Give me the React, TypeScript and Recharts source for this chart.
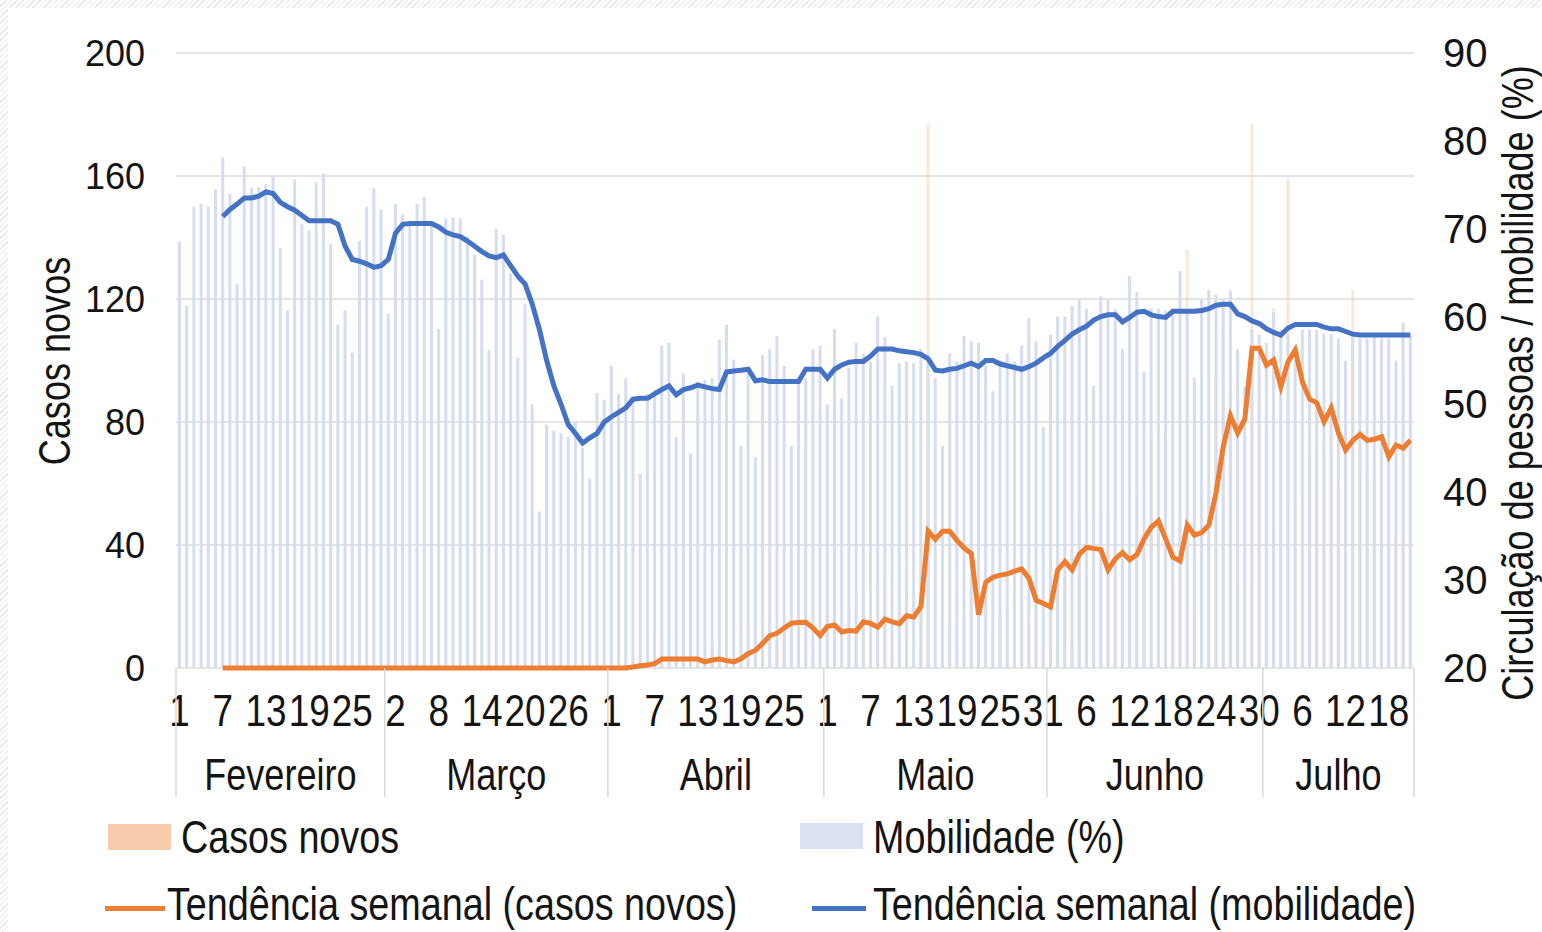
import React from "react";
import { ComposedChart, Bar, Line, XAxis, YAxis, CartesianGrid } from "recharts";

// categorias: meses e número de dias exibidos em cada um
const meses = ["Fevereiro", "Março", "Abril", "Maio", "Junho", "Julho"];
const diasPorMes = [29, 31, 30, 31, 30, 21];

// mobilidade diária (%), eixo direito
const mobilidade = [
  68.5, 61.2, 72.5, 72.8, 72.5, 74.5, 78.1, 74.0, 63.7, 77.1,
  74.7, 74.7, 75.1, 76.0, 67.8, 60.7, 75.6, 70.5, 69.8, 75.3,
  76.3, 68.3, 59.1, 60.7, 55.9, 68.6, 72.5, 74.6, 72.2, 60.3,
  72.8, 71.6, 70.5, 72.8, 73.6, 70.5, 58.6, 71.2, 71.3, 71.2,
  69.1, 67.0, 64.2, 56.2, 70.0, 69.3, 64.9, 55.3, 61.4, 50.0,
  37.8, 47.7, 47.0, 46.7, 46.3, 48.1, 45.1, 41.6, 51.3, 50.5,
  54.4, 51.2, 53.0, 50.5, 42.1, 51.2, 51.6, 56.7, 57.0, 46.3,
  53.5, 44.4, 52.6, 52.8, 53.0, 57.4, 59.1, 55.1, 45.3, 54.0,
  44.0, 55.6, 56.3, 57.8, 54.4, 45.3, 52.6, 53.0, 56.3, 56.7,
  50.0, 58.6, 50.7, 54.2, 57.0, 55.8, 54.9, 60.0, 57.7, 52.1,
  54.7, 54.9, 54.7, 56.3, 55.8, 53.0, 45.3, 55.8, 54.9, 57.8,
  57.2, 57.0, 54.4, 51.5, 55.0, 55.8, 54.9, 56.7, 59.8, 57.2,
  47.4, 57.9, 60.0, 60.0, 61.2, 61.9, 60.9, 52.1, 62.3, 61.9,
  60.9, 56.3, 64.6, 62.8, 53.7, 60.9, 60.9, 60.7, 60.7, 65.2,
  60.5, 53.0, 61.9, 63.0, 62.5, 61.9, 63.0, 56.3, 52.0, 58.5,
  58.0, 57.0, 60.5, 58.5, 58.0, 55.0, 58.5, 58.5, 58.5, 58.0,
  58.0, 57.5, 55.0, 58.0, 57.5, 57.5, 58.0, 57.5, 57.5, 55.0,
  59.3, 57.8,
];

// casos novos diários, eixo esquerdo
const casosNovos = [
  0, 0, 0, 0, 0, 0, 0, 0, 0, 0,
  0, 0, 0, 0, 0, 0, 0, 0, 0, 0,
  0, 0, 0, 0, 0, 0, 0, 0, 0, 0,
  0, 0, 0, 0, 0, 0, 0, 0, 0, 0,
  0, 0, 0, 0, 0, 0, 0, 0, 0, 0,
  0, 0, 0, 0, 0, 0, 0, 0, 0, 0,
  0, 0, 0, 2, 3, 2, 3, 10, 0, 0,
  3, 2, 0, 4, 7, 1, 3, 0, 0, 14,
  8, 16, 18, 8, 13, 11, 15, 9, 5, 2,
  22, 11, 0, 19, 11, 25, 14, 13, 30, 4,
  9, 27, 8, 34, 177, 0, 18, 13, 7, 17,
  21, 38, 73, 11, 17, 20, 23, 22, 15, 27,
  6, 4, 95, 30, 8, 50, 30, 4, 50, 49,
  30, 18, 35, 57, 40, 75, 43, 10, 28, 50,
  136, 18, 60, 56, 93, 110, 90, 66, 28, 177,
  96, 78, 117, 45, 159, 55, 20, 68, 87, 73,
  90, 60, 16, 123, 73, 64, 61, 97, 42, 43,
  95, 78,
];

// tendência semanal (mobilidade)
const tendMobilidade = [
  null, null, null, null, null, null, 71.4, 72.2, 72.8, 73.5,
  73.5, 73.7, 74.2, 74.0, 73.0, 72.5, 72.1, 71.5, 70.9, 70.9,
  70.9, 70.9, 70.5, 68.0, 66.5, 66.3, 66.0, 65.6, 65.8, 66.5,
  69.5, 70.5, 70.6, 70.6, 70.6, 70.6, 70.2, 69.6, 69.3, 69.1,
  68.6, 68.0, 67.4, 66.9, 66.7, 67.0, 65.8, 64.6, 63.7, 61.4,
  58.5, 55.0, 52.1, 50.0, 47.7, 46.7, 45.6, 46.2, 46.7, 48.0,
  48.6, 49.1, 49.6, 50.6, 50.7, 50.7, 51.2, 51.7, 52.1, 51.1,
  51.7, 51.9, 52.2, 52.0, 51.8, 51.7, 53.7, 53.8, 53.9, 54.0,
  52.7, 52.8, 52.6, 52.6, 52.6, 52.6, 52.6, 54.0, 54.0, 54.0,
  53.0, 54.0, 54.5, 54.8, 54.9, 54.9, 55.5, 56.3, 56.3, 56.3,
  56.1, 56.0, 55.9, 55.7, 55.2, 53.9, 53.8, 54.0, 54.1, 54.4,
  54.7, 54.3, 55.0, 55.0, 54.6, 54.4, 54.2, 54.0, 54.3, 54.7,
  55.3, 55.8, 56.6, 57.3, 58.0, 58.5, 58.9, 59.6, 60.0, 60.2,
  60.2, 59.4, 59.9, 60.5, 60.6, 60.2, 60.0, 59.9, 60.6, 60.6,
  60.6, 60.6, 60.7, 60.9, 61.3, 61.4, 61.4, 60.3, 60.0, 59.5,
  59.2, 58.6, 58.2, 57.9, 58.7, 59.1, 59.1, 59.1, 59.1, 58.8,
  58.6, 58.6, 58.3, 58.0, 57.9, 57.9, 57.9, 57.9, 57.9, 57.9,
  57.9, 57.9,
];

// tendência semanal (casos novos)
const tendCasos = [
  null, null, null, null, null, null, 0, 0, 0, 0,
  0, 0, 0, 0, 0, 0, 0, 0, 0, 0,
  0, 0, 0, 0, 0, 0, 0, 0, 0, 0,
  0, 0, 0, 0, 0, 0, 0, 0, 0, 0,
  0, 0, 0, 0, 0, 0, 0, 0, 0, 0,
  0, 0, 0, 0, 0, 0, 0, 0, 0, 0,
  0, 0, 0, 0.3, 0.7, 1.0, 1.4, 2.9, 2.9, 2.9,
  2.9, 2.9, 2.9, 2.0, 2.6, 2.9, 2.4, 2.0, 3.0, 4.7,
  5.7, 8.0, 10.5, 11.3, 13.0, 14.6, 14.8, 14.9, 13.0, 10.6,
  13.5, 14.0, 11.7, 12.2, 12.0, 15.0, 14.5, 13.3, 15.9, 15.0,
  14.4, 17.0, 16.6, 20.0, 44.5, 41.9, 44.5, 44.5, 41.5, 39.0,
  37.2, 17.3, 27.9, 29.5, 30.2, 30.6, 31.5, 32.2, 29.2, 22.0,
  21.0, 19.9, 31.9, 34.6, 31.9, 37.0, 39.2, 38.9, 38.5, 31.9,
  35.5, 37.5, 35.2, 36.9, 42.0, 45.8, 47.8, 41.9, 36.0, 34.8,
  46.5, 43.2, 44.0, 46.5, 57.0, 72.0, 82.0, 76.4, 81.0, 104.0,
  104.0, 98.5, 100.2, 91.5, 99.6, 103.4, 93.0, 87.5, 86.2, 80.1,
  84.6, 76.4, 70.9, 74.0, 76.0, 74.0, 74.4, 75.2, 68.7, 72.5,
  71.5, 74.1,
];

const ticksCasos = [0, 40, 80, 120, 160, 200];
const ticksMobilidade = [20, 30, 40, 50, 60, 70, 80, 90];

const W = 1542;
const H = 932;
const PLOT_L = 176;
const PLOT_R = 1414;
const PLOT_B = 668;
const FONT = "'Liberation Sans', Arial, sans-serif";
const SQUEEZE = 0.82; // texto estreito, como Arial Narrow
const TXT = "#141414";

const diaDoMes: number[] = [];
const inicioMes: number[] = [];
diasPorMes.forEach((len) => {
  inicioMes.push(diaDoMes.length);
  for (let d = 1; d <= len; d++) diaDoMes.push(d);
});
const N = diaDoMes.length;
const BAND = (PLOT_R - PLOT_L) / N;

const data = diaDoMes.map((dia, i) => ({
  i,
  dia,
  mob: mobilidade[i],
  casos: casosNovos[i],
  tMob: tendMobilidade[i],
  tCasos: tendCasos[i],
}));

const Narrow = ({ x, y, size, anchor = "middle", rotate = 0, children }: any) => (
  <text
    transform={`translate(${x},${y}) rotate(${rotate}) scale(${SQUEEZE},1)`}
    textAnchor={anchor}
    fontFamily={FONT}
    fontSize={size}
    fill={TXT}
  >
    {children}
  </text>
);

function XTick({ x, payload }: any) {
  const i = payload.value as number;
  const out: React.ReactNode[] = [];
  if (i % 6 === 0) {
    out.push(
      <Narrow key="d" x={x} y={726} size={45}>
        {diaDoMes[i]}
      </Narrow>
    );
  }
  if (inicioMes.includes(i)) {
    out.push(<line key="s" x1={x - BAND / 2} x2={x - BAND / 2} y1={PLOT_B} y2={797} stroke="#d9d9d9" strokeWidth={1.5} />);
  }
  if (i === N - 1) {
    out.push(<line key="e" x1={x + BAND / 2} x2={x + BAND / 2} y1={PLOT_B} y2={797} stroke="#d9d9d9" strokeWidth={1.5} />);
  }
  meses.forEach((nome, k) => {
    const c = inicioMes[k] + (diasPorMes[k] - 1) / 2;
    if (Math.floor(c) === i) {
      out.push(
        <Narrow key={"m" + k} x={x + (c - i) * BAND} y={790} size={44}>
          {nome}
        </Narrow>
      );
    }
  });
  return <g>{out}</g>;
}

const LeftTick = ({ x, y, payload }: any) => (
  <text x={x - 23} y={y} dy={13} textAnchor="end" fontFamily={FONT} fontSize={36} fill={TXT}>
    {payload.value}
  </text>
);

const RightTick = ({ x, y, payload }: any) => (
  <text x={x + 21} y={y} dy={14} textAnchor="start" fontFamily={FONT} fontSize={40} fill={TXT}>
    {payload.value}
  </text>
);

const AxisTitle = ({ cx, cy, text }: any) => (
  <g transform={`translate(${cx},${cy}) rotate(-90)`}>
    <Narrow x={0} y={15} size={44}>
      {text}
    </Narrow>
  </g>
);

const legendText = (left: number, top: number, label: string) => (
  <div
    style={{
      position: "absolute",
      left,
      top,
      fontFamily: FONT,
      fontSize: 46,
      lineHeight: "46px",
      color: TXT,
      whiteSpace: "nowrap",
      transform: `scaleX(${SQUEEZE})`,
      transformOrigin: "left top",
    }}
  >
    {label}
  </div>
);

export default function App() {
  return (
    <div
      style={{
        position: "relative",
        width: W,
        height: H,
        background: "repeating-linear-gradient(135deg, #e6e6e6 0 1px, #ffffff 1px 4px)",
        overflow: "hidden",
      }}
    >
      <style>{"body{margin:0}"}</style>
      <div style={{ position: "absolute", left: 8, top: 8, right: 0, bottom: 0, background: "#fff" }} />
      <div style={{ position: "absolute", left: 0, top: 0 }}>
        <ComposedChart width={W} height={H} data={data} margin={{ top: 53, right: 0, bottom: 134, left: 0 }}>
          <CartesianGrid xAxisId="x" yAxisId="left" vertical={false} stroke="#dcdcdc" strokeWidth={1.5} />
          <XAxis
            xAxisId="x"
            dataKey="i"
            interval={0}
            height={130}
            tickLine={false}
            axisLine={false}
            tick={<XTick />}
          />
          <XAxis xAxisId="x2" dataKey="i" hide />
          <YAxis
            yAxisId="left"
            domain={[0, 200]}
            ticks={ticksCasos}
            width={176}
            axisLine={false}
            tickLine={false}
            tick={<LeftTick />}
            label={<AxisTitle cx={55} cy={361} text="Casos novos" />}
          />
          <YAxis
            yAxisId="right"
            orientation="right"
            domain={[20, 90]}
            ticks={ticksMobilidade}
            width={128}
            axisLine={false}
            tickLine={false}
            tick={<RightTick />}
            label={<AxisTitle cx={1518} cy={383} text="Circulação de pessoas / mobilidade (%)" />}
          />
          <Bar xAxisId="x2" yAxisId="left" dataKey="casos" barSize={3} fill="#f4c9ad" fillOpacity={0.45} isAnimationActive={false} />
          <Bar xAxisId="x" yAxisId="right" dataKey="mob" barSize={3} fill="#d5ddef" isAnimationActive={false} />
          <Line
            xAxisId="x"
            yAxisId="left"
            dataKey="tCasos"
            type="linear"
            stroke="#ed7d31"
            strokeWidth={5}
            dot={false}
            isAnimationActive={false}
          />
          <Line
            xAxisId="x"
            yAxisId="right"
            dataKey="tMob"
            type="linear"
            stroke="#4472c4"
            strokeWidth={5}
            dot={false}
            isAnimationActive={false}
          />
        </ComposedChart>
      </div>
      {/* legenda */}
      <div style={{ position: "absolute", left: 108, top: 824, width: 63, height: 26, background: "#f8cbad" }} />
      {legendText(181, 814, "Casos novos")}
      <div style={{ position: "absolute", left: 800, top: 823, width: 63, height: 26, background: "#d9e1f2" }} />
      {legendText(873, 814, "Mobilidade (%)")}
      <div style={{ position: "absolute", left: 105, top: 906, width: 60, height: 5, background: "#ed7d31" }} />
      {legendText(167, 881, "Tendência semanal (casos novos)")}
      <div style={{ position: "absolute", left: 812, top: 906, width: 54, height: 5, background: "#4472c4" }} />
      {legendText(873, 881, "Tendência semanal (mobilidade)")}
    </div>
  );
}
